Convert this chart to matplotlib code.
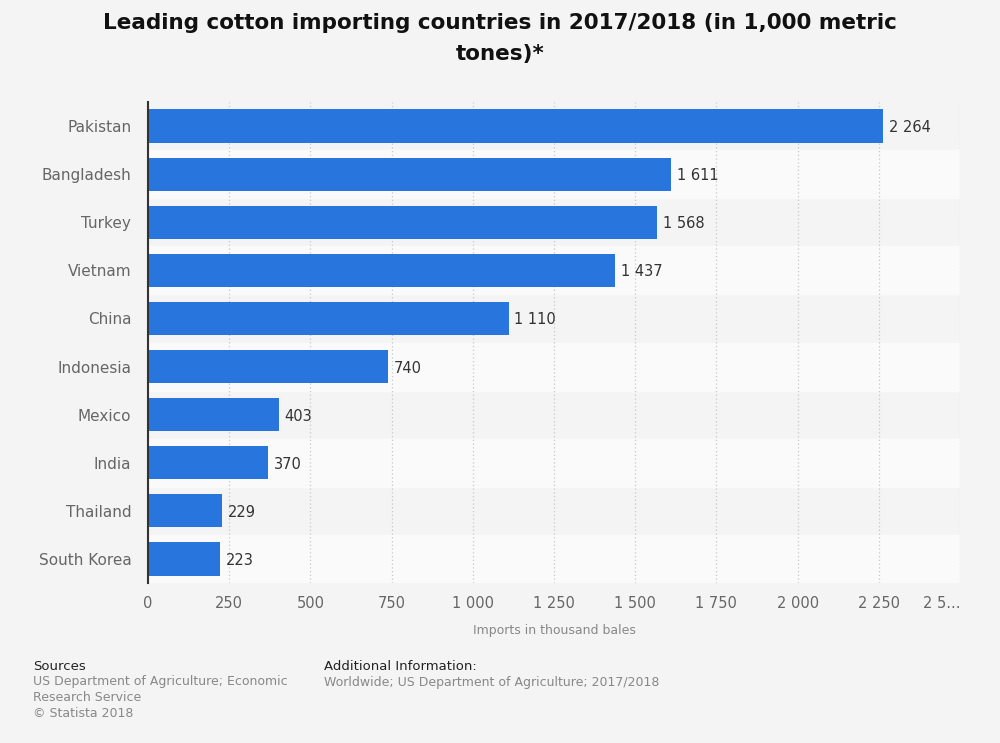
import matplotlib.pyplot as plt

plt.rcParams["font.family"] = ["DejaVu Sans"]

countries = ["Pakistan", "Bangladesh", "Turkey", "Vietnam", "China",
             "Indonesia", "Mexico", "India", "Thailand", "South Korea"]
imports = [2264, 1611, 1568, 1437, 1110, 740, 403, 370, 229, 223]
xticks = [0, 250, 500, 750, 1000, 1250, 1500, 1750, 2000, 2250, 2500]
xtick_labels = ["0", "250", "500", "750", "1 000", "1 250", "1 500",
                "1 750", "2 000", "2 250", "2 5..."]


def fmt(v):
    return f"{v:,}".replace(",", " ")


bg = "#f4f4f4"
fig = plt.figure(figsize=(10, 7.43), dpi=100, facecolor=bg)
ax = fig.add_axes([0.148, 0.2153, 0.812, 0.6474])
ax.set_facecolor(bg)

n = len(countries)
ypos = list(range(n))

# alternating row bands
for i in ypos:
    if i % 2 == 1:
        ax.axhspan(i - 0.5, i + 0.5, color="#fafafa", zorder=0)

ax.barh(ypos, imports, height=0.69, color="#2876dd", zorder=3)
for y, v in zip(ypos, imports):
    ax.text(v + 18, y + 0.03, fmt(v), va="center", ha="left", fontsize=10.5,
            color="#333333", zorder=4)

ax.set_ylim(n - 0.5, -0.5)
ax.set_xlim(0, 2500)
ax.set_yticks(ypos)
ax.set_yticklabels(countries, fontsize=11, color="#666666")
ax.set_xticks(xticks)
ax.set_xticklabels(xtick_labels, fontsize=10.5, color="#666666")
ax.tick_params(axis="x", length=0, pad=9)
ax.tick_params(axis="y", length=0, pad=12)
lbls = ax.get_xticklabels()
lbls[-1].set_horizontalalignment("right")
lbls[-1].set_x(2500)

ax.grid(axis="x", linestyle=(0, (1, 2)), color="#c8c8c8", linewidth=0.9, zorder=1)
for s in ["top", "right", "bottom"]:
    ax.spines[s].set_visible(False)
ax.spines["left"].set_color("#333333")
ax.spines["left"].set_linewidth(1.5)
ax.spines["left"].set_zorder(5)

ax.set_xlabel("Imports in thousand bales", fontsize=9, color="#888888", labelpad=10)

fig.text(0.5, 0.982, "Leading cotton importing countries in 2017/2018 (in 1,000 metric\ntones)*",
         ha="center", va="top", fontsize=15.5, fontweight="bold", color="#111111",
         linespacing=1.65)

fig.text(0.033, 0.098, "Sources", fontsize=9.5, color="#222222", va="baseline")
fig.text(0.033, 0.035, "US Department of Agriculture; Economic\nResearch Service\n© Statista 2018",
         fontsize=9, color="#888888", va="baseline", linespacing=1.3)
fig.text(0.324, 0.098, "Additional Information:", fontsize=9.5, color="#222222", va="baseline")
fig.text(0.324, 0.077, "Worldwide; US Department of Agriculture; 2017/2018",
         fontsize=9, color="#888888", va="baseline")

fig.savefig("out.png", dpi=100, facecolor=bg)
